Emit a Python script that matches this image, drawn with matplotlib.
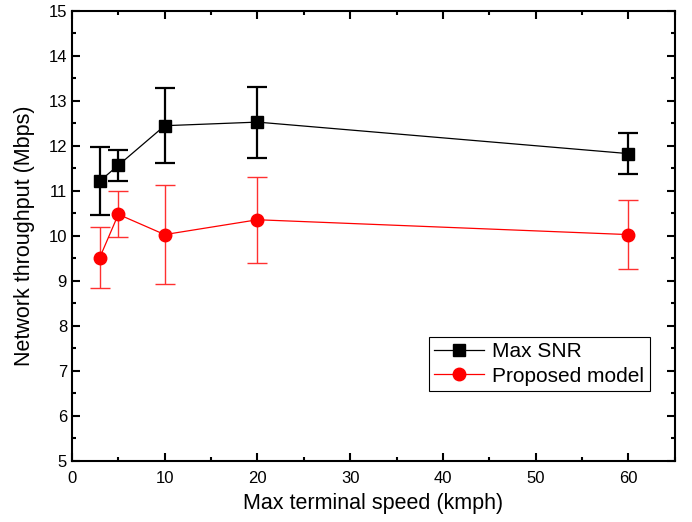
import matplotlib.pyplot as plt
from matplotlib.ticker import MultipleLocator

plt.rcParams['font.family'] = ['Liberation Sans', 'DejaVu Sans']

speed = [3, 5, 10, 20, 60]
snr_mean = [11.22, 11.57, 12.45, 12.53, 11.83]
snr_err = [0.75, 0.35, 0.83, 0.79, 0.45]
prop_mean = [9.52, 10.48, 10.03, 10.36, 10.03]
prop_err = [0.68, 0.51, 1.10, 0.96, 0.77]

fig = plt.figure(figsize=(6.92, 5.22), dpi=100)
# axes box in figure fractions
ax = fig.add_axes([0.104, 0.117, 0.871, 0.862])

ax.errorbar(speed, snr_mean, yerr=snr_err, fmt='none', ecolor='black',
            elinewidth=1.6, capsize=7, capthick=1.6, zorder=2)
ax.errorbar(speed, prop_mean, yerr=prop_err, fmt='none', ecolor='#ff3030',
            elinewidth=1.0, capsize=7, capthick=1.0, zorder=2)
ax.plot(speed, snr_mean, color='black', lw=0.9, marker='s', ms=8,
        label='Max SNR', zorder=3)
ax.plot(speed, prop_mean, color='red', lw=0.9, marker='o', ms=9,
        label='Proposed model', zorder=3)

ax.set_xlim(0, 65)
ax.set_ylim(5, 15)
ax.xaxis.set_major_locator(MultipleLocator(10))
ax.xaxis.set_minor_locator(MultipleLocator(5))
ax.yaxis.set_major_locator(MultipleLocator(1))
ax.yaxis.set_minor_locator(MultipleLocator(0.5))
ax.tick_params(which='both', direction='in', top=True, right=True,
               width=1.5, labelsize=12)
ax.tick_params(which='major', length=6)
ax.tick_params(which='minor', length=3)
ax.tick_params(axis='x', pad=7)
for s in ax.spines.values():
    s.set_linewidth(1.5)

ax.set_xlabel('Max terminal speed (kmph)', fontsize=15.5, labelpad=5)
ax.set_ylabel('Network throughput (Mbps)', fontsize=15.5, labelpad=10)

leg = ax.legend(loc='lower left', bbox_to_anchor=(0.592, 0.156),
                borderaxespad=0, fontsize=15, fancybox=False,
                edgecolor='black', framealpha=1, handlelength=2.4,
                borderpad=0.25, labelspacing=0.25, handletextpad=0.4)
leg.get_frame().set_linewidth(0.8)

fig.savefig('out.png', dpi=100)
